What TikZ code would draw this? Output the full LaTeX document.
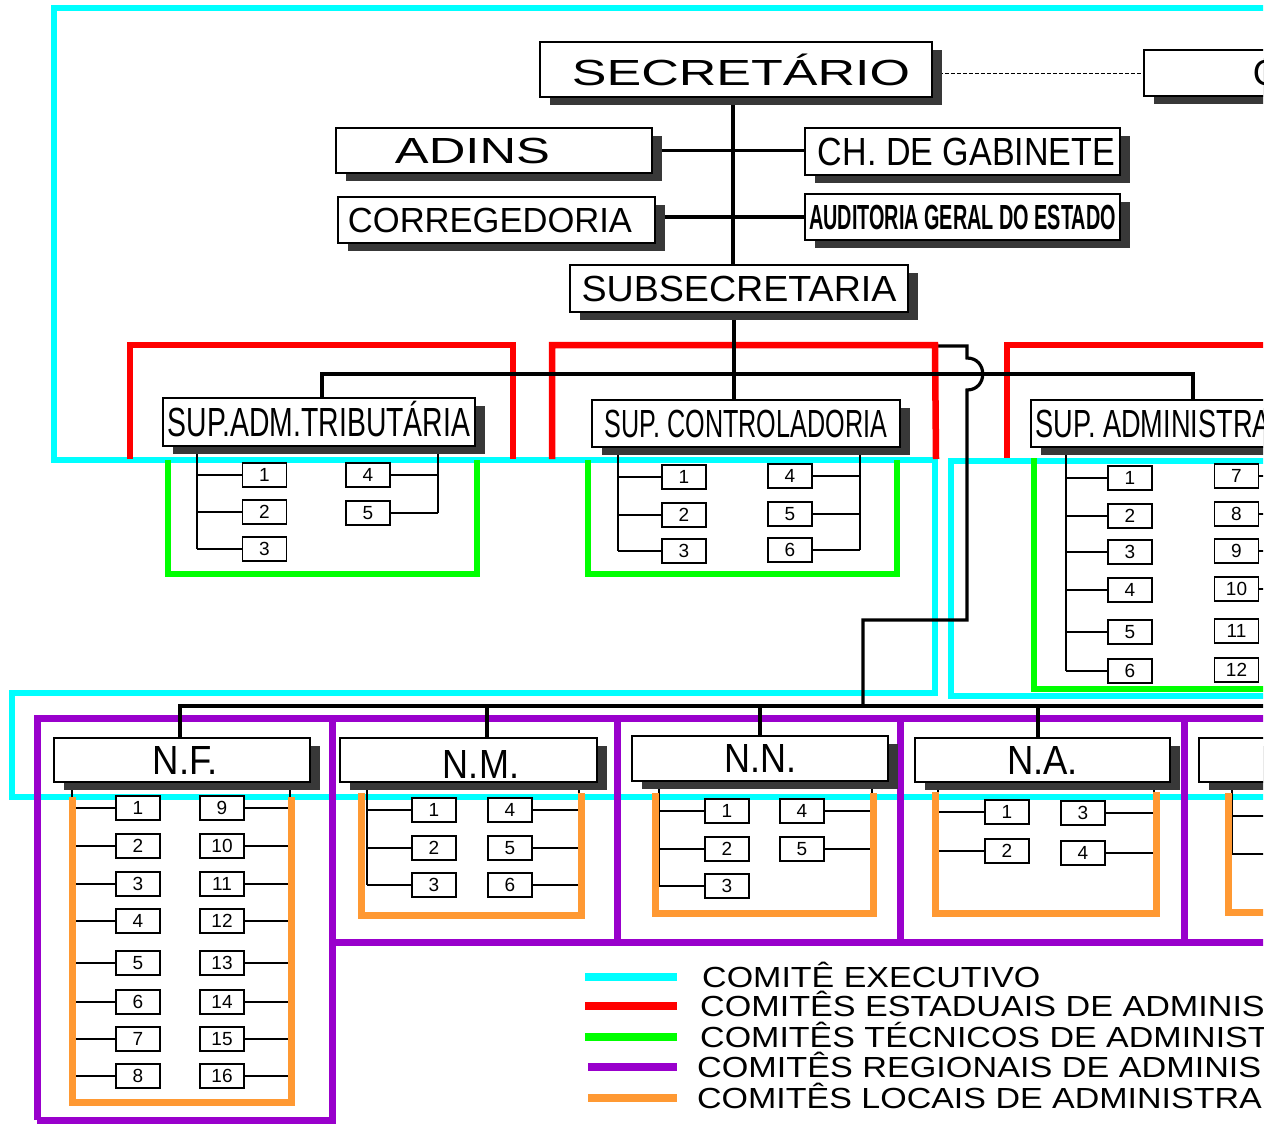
\documentclass[tikz,border=0pt]{standalone}
\usepackage{fontspec}
\setmainfont{Liberation Sans}
\usetikzlibrary{shadows}
\definecolor{cyx}{RGB}{0,255,255}
\definecolor{rdx}{RGB}{255,0,0}
\definecolor{grx}{RGB}{0,255,0}
\definecolor{pux}{RGB}{153,0,204}
\definecolor{orx}{RGB}{255,153,51}
\pgfdeclarelayer{la}
\pgfdeclarelayer{lb}
\pgfdeclarelayer{lc}
\pgfdeclarelayer{ld}
\pgfsetlayers{la,lb,lc,ld,main}
\newcommand\fw[3]{\resizebox{#1}{#2}{\raisebox{0pt}[\fontcharht\font`X][0pt]{#3}}}
\newcommand\clp{\clip (0,0) rectangle (1263,1124);}
\newcommand\bigbox[6]{\node[bbox, minimum width={(#4-#2)*1pt}, minimum height={(#5-#3)*1pt}] (#1) at ({(#2+#4)/2},{(#3+#5)/2}) {#6};}
\newcommand\nb[4]{\node[nbox] (#1) at (#2,#3) {#4};}
\newcommand\combL[3]{\draw[comb] (#1) -- (#2.west -| #1); \foreach \n in {#3} {\draw[comb] (\n.west) -- (\n.west -| #1);}}
\newcommand\combR[3]{\draw[comb] (#1) -- (#2.east -| #1); \foreach \n in {#3} {\draw[comb] (\n.east) -- (\n.east -| #1);}}
\tikzset{
  bbox/.style={draw, line width=1.6pt, fill=white, inner sep=0pt,
    drop shadow={shadow xshift=10pt, shadow yshift=-8pt, fill=black!78, opacity=1}},
  nbox/.style={draw, line width=1.3pt, fill=white, inner sep=0pt, minimum width=44pt,
    minimum height=24pt, font=\fontsize{19}{19}\selectfont},
  comb/.style={line width=1.4pt},
  wthree/.style={line width=3.2pt},
  wfour/.style={line width=4.2pt},
  cyframe/.style={cyx, line width=6pt},
  rdframe/.style={rdx, line width=6.5pt},
  grframe/.style={grx, line width=5.5pt},
  puframe/.style={pux, line width=7pt},
  orframe/.style={orx, line width=7pt},
  swatch/.style={line width=8pt},
  lg/.style={anchor=base west, inner sep=0pt}
}
\begin{document}
\begin{tikzpicture}[x=1pt,y=-1pt]
\useasboundingbox (0,0) rectangle (1279,1124);
\begin{scope}
\clp
% ---------- top boxes
\bigbox{sec}{540}{42}{932}{97}{\hspace*{10pt}\raisebox{0pt}[31pt][0pt]{\fw{338pt}{25pt}{SECRETÁRIO}}}
\node[bbox, anchor=west, minimum height=46pt, inner xsep=109pt] (cons) at (1143,73) {\fw{26pt}{25pt}{C}};
\bigbox{adins}{336}{128}{652}{173}{\fw{155pt}{25pt}{ADINS}\hspace*{43pt}}
\bigbox{chg}{805}{128}{1120}{175}{\hspace*{8pt}\fw{297pt}{27pt}{CH. DE GABINETE}}
\bigbox{corr}{338}{197}{655}{243}{\fw{284pt}{24pt}{CORREGEDORIA}\hspace*{13pt}}
\bigbox{aud}{805}{194}{1120}{240}{{\bfseries\fw{307pt}{24pt}{AUDITORIA GERAL DO ESTADO}}}
\bigbox{sub}{570}{265}{908}{312}{\fw{315pt}{25pt}{SUBSECRETARIA}}
% ---------- superintendencias
\bigbox{stA}{163}{398}{475}{446}{\fw{302pt}{28pt}{SUP.ADM.TRIBUTÁRIA}}
\bigbox{sctl}{592}{400}{900}{447}{\fw{282pt}{27pt}{SUP. CONTROLADORIA}}
\node[bbox, anchor=west, minimum height=47pt, inner xsep=5pt] (sadm) at (1030,423.5) {\fw{235pt}{27pt}{SUP. ADMINISTRA}};
% ---------- nucleos
\bigbox{nf}{54}{738}{310}{782}{\hspace*{7pt}\fw{65pt}{28pt}{N.F.}}
\bigbox{nm}{340}{738}{597}{782}{\hspace*{25pt}\raisebox{0pt}[36pt][0pt]{\fw{76pt}{28pt}{N.M.}}}
\bigbox{nn}{632}{736}{888}{781}{\fw{72pt}{28pt}{N.N.}}
\bigbox{na}{915}{738}{1170}{782}{\fw{71pt}{28pt}{N.A.}}
\node[bbox, anchor=west, minimum width=256pt, minimum height=44pt] (nfive) at (1198,760) {};
% ---------- small numbered boxes
\nb{t1}{264.5}{475}{1} \nb{t2}{264.5}{512}{2} \nb{t3}{264.5}{549}{3}
\nb{t4}{368}{475}{4} \nb{t5}{368}{513}{5}
\nb{c1}{684}{477}{1} \nb{c2}{684}{515}{2} \nb{c3}{684}{551}{3}
\nb{c4}{790}{476}{4} \nb{c5}{790}{514}{5} \nb{c6}{790}{550}{6}
\foreach \y [count=\i] in {478,516,552,590,632,671} {\nb{s\i}{1130}{\y}{\i}}
\foreach \y [count=\i from 7] in {476,514,551,589,631,670} {\nb{s\i}{1236.5}{\y}{\i}}
\foreach \y [count=\i] in {808,846,884,921,963,1002,1039,1076} {\nb{f\i}{138}{\y}{\i}}
\foreach \y [count=\i from 9] in {808,846,884,921,963,1002,1039,1076} {\nb{f\i}{222}{\y}{\i}}
\foreach \y [count=\i] in {810,848,885} {\nb{m\i}{434}{\y}{\i}}
\foreach \y [count=\i from 4] in {810,848,885} {\nb{m\i}{510}{\y}{\i}}
\foreach \y [count=\i] in {811,849,886} {\nb{nn\i}{727}{\y}{\i}}
\foreach \y [count=\i from 4] in {811,849} {\nb{nn\i}{802}{\y}{\i}}
\nb{aa1}{1007}{812}{1} \nb{aa2}{1007}{851}{2}
\nb{aa3}{1083}{813}{3} \nb{aa4}{1083}{853}{4}
% ---------- coordinates
\coordinate (spx) at (733,0);
\coordinate (spy) at (734,0);
\coordinate (busL) at (322,374);
\coordinate (busR) at (1193,374);
\coordinate (hzero) at (734,346);
\coordinate (nbH) at (863,706);
\coordinate (nbL) at (180,706);
\coordinate (nbR) at (1290,706);
\coordinate (dM) at (487,706);
\coordinate (dN) at (760,706);
\coordinate (dA) at (1038,706);
\coordinate (stAL) at (197,446); \coordinate (stAR) at (438,446);
\coordinate (cL) at (618,447); \coordinate (cR) at (860,447);
\coordinate (sL) at (1066,447); \coordinate (sR) at (1290,447);
\coordinate (fL) at (72,782); \coordinate (fR) at (290,782);
\coordinate (mL) at (367,782); \coordinate (mR) at (579,782);
\coordinate (nL) at (659,781); \coordinate (nR) at (872,781);
\coordinate (aL) at (938,782); \coordinate (aR) at (1154,782);
\coordinate (qL) at (1232,782); \coordinate (qone) at (1290,816); \coordinate (qtwo) at (1290,854);
% ---------- legend
\draw[cyx, swatch] (585,977) -- (677,977);
\draw[rdx, swatch] (585,1006) -- (677,1006);
\draw[grx, swatch] (585,1037) -- (677,1037);
\draw[pux, swatch] (588,1067) -- (677,1067);
\draw[orx, swatch] (588,1098) -- (677,1098);
\node[lg] (lgone) at (702,987) {\fw{338pt}{20pt}{COMITÊ EXECUTIVO}};
\node[lg] (lgtwo) at (700,1016) {\fw{564.5pt}{20pt}{COMITÊS ESTADUAIS DE ADMINIS}};
\node[lg] (lgthree) at (700,1047) {\fw{568.3pt}{20pt}{COMITÊS TÉCNICOS DE ADMINIST}};
\node[lg] (lgfour) at (697,1077) {\fw{564pt}{20pt}{COMITÊS REGIONAIS DE ADMINIS}};
\node[lg] (lgfive) at (697,1108) {\fw{564.5pt}{20pt}{COMITÊS LOCAIS DE ADMINISTRA}};
\end{scope}
% ---------- layer a: cyan, green, purple, hop line
\begin{pgfonlayer}{la}
\begin{scope}
\clp
\draw[cyframe] (1290,8) -- (54,8) -- (54,460) -- (935,460) -- (935,693) -- (12,693) -- (12,797) -- (1290,797);
\draw[cyframe] (1290,461) -- (951,461) -- (951,696) -- (1290,696);
\draw[grframe] (168,460) -- (168,574) -- (477,574) -- (477,460);
\draw[grframe] (588,460) -- (588,574) -- (897,574) -- (897,460);
\draw[grframe] (1034,458) -- (1034,689) -- (1290,689);
\draw[puframe] (37,1120) -- (37,718) -- (1290,718);
\draw[puframe] (332,718) -- (332,1120) -- (37,1120);
\draw[puframe] (332,942) -- (1290,942);
\draw[puframe] (617,718) -- (617,942);
\draw[puframe] (900,718) -- (900,942);
\draw[puframe] (1184,718) -- (1184,942);
\draw[wthree] (hzero) -- (967,346) -- (967,358) .. controls (988,358) and (988,390) .. (967,390) -- (967,620) -- (863,620) -- (nbH);
\end{scope}
\end{pgfonlayer}
% ---------- layer b: red
\begin{pgfonlayer}{lb}
\begin{scope}
\clp
\draw[rdframe] (130,459) -- (130,345) -- (513,345) -- (513,459);
\draw[rdframe] (552,459) -- (552,345) -- (935,345) -- (936,459);
\draw[rdframe] (1007,458) -- (1007,345) -- (1290,345);
\end{scope}
\end{pgfonlayer}
% ---------- layer c: black connectors
\begin{pgfonlayer}{lc}
\begin{scope}
\clp
\draw[wfour] (sec.south -| spx) -- (sub.north -| spx);
\draw[dash pattern=on 4pt off 2pt, line width=1pt] (sec.east |- cons.west) -- (cons.west);
\draw[wthree] (adins.east) -- (adins.east -| chg.west);
\draw[wthree] (aud.west) -- (aud.west -| corr.east);
\draw[wthree] (sub.south -| spy) -- (sctl.north -| spy);
\draw[wthree] (stA.north -| busL) -- (busL) -- (busR) -- (sadm.north -| busR);
\draw[wfour] (nf.north -| nbL) -- (nbL) -- (nbR);
\draw[wfour] (dM) -- (nm.north -| dM);
\draw[wfour] (dN) -- (nn.north -| dN);
\draw[wfour] (dA) -- (na.north -| dA);
\combL{stAL}{t3}{t1,t2,t3}
\combR{stAR}{t5}{t4,t5}
\combL{cL}{c3}{c1,c2,c3}
\combR{cR}{c6}{c4,c5,c6}
\combL{sL}{s6}{s1,s2,s3,s4,s5,s6}
\foreach \n in {s7,s8,s9,s10} {\draw[comb] (\n.east) -- (\n.east -| sR);}
\combL{fL}{f8}{f1,f2,f3,f4,f5,f6,f7,f8}
\combR{fR}{f16}{f9,f10,f11,f12,f13,f14,f15,f16}
\combL{mL}{m3}{m1,m2,m3}
\combR{mR}{m6}{m4,m5,m6}
\combL{nL}{nn3}{nn1,nn2,nn3}
\combR{nR}{nn5}{nn4,nn5}
\combL{aL}{aa2}{aa1,aa2}
\combR{aR}{aa4}{aa3,aa4}
\draw[comb] (qL) -- (qL |- qtwo);
\draw[comb] (qL |- qone) -- (qone);
\draw[comb] (qL |- qtwo) -- (qtwo);
\end{scope}
\end{pgfonlayer}
% ---------- layer d: orange
\begin{pgfonlayer}{ld}
\begin{scope}
\clp
\draw[orframe] (72,797) -- (72,1102) -- (291,1102) -- (291,797);
\draw[orframe] (361,793) -- (361,915) -- (581,915) -- (581,793);
\draw[orframe] (655,793) -- (655,913) -- (873,913) -- (873,793);
\draw[orframe] (935,792) -- (935,913) -- (1156,913) -- (1156,792);
\draw[orframe] (1228,793) -- (1228,912) -- (1290,912);
\end{scope}
\end{pgfonlayer}
\end{tikzpicture}
\end{document}
